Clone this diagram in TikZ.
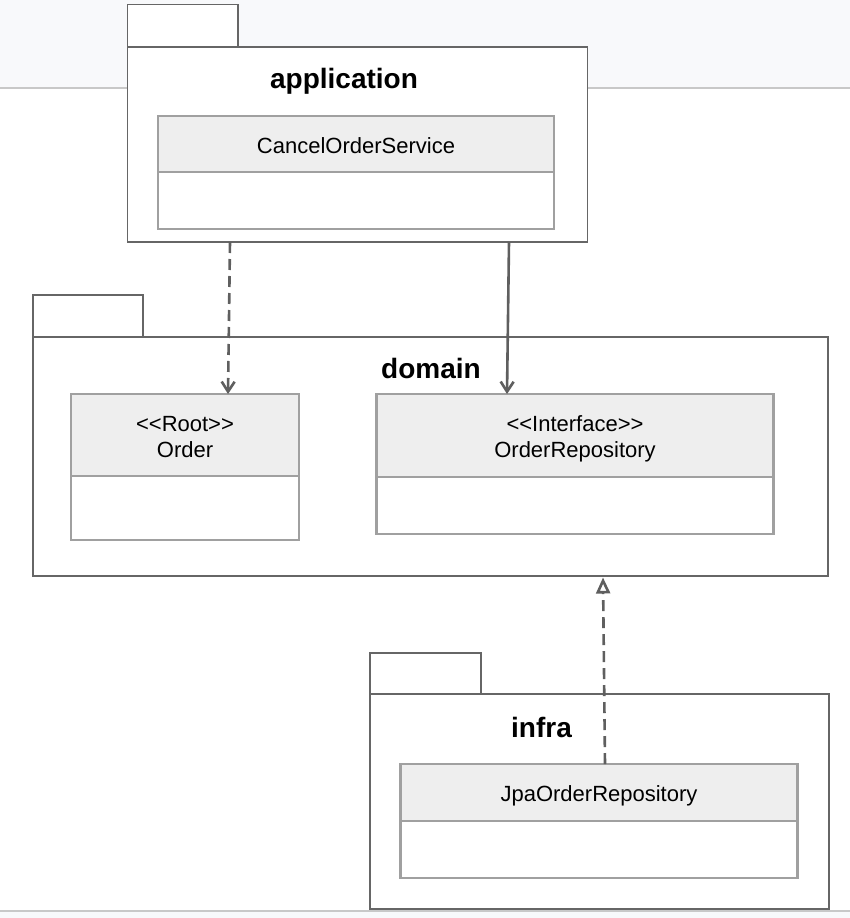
\documentclass[tikz,border=0pt]{standalone}
\usepackage{fontspec}
\newfontfamily\lsans{Liberation Sans}
\usetikzlibrary{arrows.meta,calc}
\definecolor{pkgline}{HTML}{666666}
\definecolor{clsline}{HTML}{A0A0A0}
\definecolor{clsfill}{HTML}{EEEEEE}
\definecolor{arrowc}{HTML}{5F5F5F}
\definecolor{band}{HTML}{F8F9FB}
\definecolor{bandline}{HTML}{C8C8C8}
\begin{document}
\begin{tikzpicture}[x=1pt,y=-1pt,
  pkgbox/.style={draw=pkgline, line width=1.3pt, fill=white, inner sep=0pt, outer sep=0pt, anchor=north west},
  clshead/.style={draw=clsline, line width=2.7pt, fill=clsfill, inner sep=0pt, outer sep=0pt, anchor=north west},
  clsbody/.style={draw=clsline, line width=2.7pt, fill=white, inner sep=0pt, outer sep=0pt, anchor=north west},
  clstext/.style={font=\lsans\fontsize{22}{26}\selectfont, align=center, inner sep=0pt, anchor=base},
  pkgtitle/.style={font=\lsans\fontsize{28}{30}\selectfont\bfseries, inner sep=0pt, anchor=base},
  conn/.style={draw=arrowc, line width=2.6pt},
  depline/.style={conn, dash pattern=on 11pt off 6pt},
  usetip/.style={-{Straight Barb[length=10pt, width=13pt, line width=2.6pt]}},
  realtip/.style={-{Triangle[open, length=16pt, width=14pt, line width=2.6pt]}},
]
\useasboundingbox (0,0) rectangle (850,918);
% page bands
\fill[band] (0,0) rectangle (850,88);
\draw[bandline, line width=1.2pt] (0,88) -- (850,88);
\fill[band] (0,911) rectangle (850,918);
\draw[bandline, line width=1.2pt] (0,911) -- (850,911);

% application package
\node[pkgbox, minimum width=110.5pt, minimum height=42.5pt] (apptab) at (127.5,4.5) {};
\node[pkgbox, minimum width=460pt, minimum height=195pt] (app) at (127.5,47) {};
\node[pkgtitle] (apptitle) at (344,88) {application};
\node[clshead, minimum width=396pt, minimum height=56pt] (cosh) at (158,116) {};
\node[clsbody, minimum width=396pt, minimum height=57pt] (cosb) at (158,172) {};
\node[clstext] (cost) at (356,153) {CancelOrderService};

% domain package
\node[pkgbox, minimum width=110pt, minimum height=42pt] (domtab) at (33,295) {};
\node[pkgbox, minimum width=795pt, minimum height=239pt] (dom) at (33,337) {};
\node[pkgtitle] (domtitle) at (431,378) {domain};
\node[clshead, minimum width=228pt, minimum height=82pt] (ordh) at (71,394) {};
\node[clsbody, minimum width=228pt, minimum height=64pt] (ordb) at (71,476) {};
\node[clstext] (ordt) at (185,457) {<<Root>>\\Order};
\node[clshead, minimum width=397pt, minimum height=83pt] (reph) at (376.5,394) {};
\node[clsbody, minimum width=397pt, minimum height=57pt] (repb) at (376.5,477) {};
\node[clstext] (rept) at (575,457) {<<Interface>>\\OrderRepository};

% infra package
\node[pkgbox, minimum width=111pt, minimum height=41pt] (inftab) at (370,653) {};
\node[pkgbox, minimum width=459pt, minimum height=215pt] (inf) at (370,694) {};
\node[pkgtitle] (inftitle) at (541.5,737) {infra};
\node[clshead, minimum width=397pt, minimum height=57pt] (jpah) at (400.5,764) {};
\node[clsbody, minimum width=397pt, minimum height=57pt] (jpab) at (400.5,821) {};
\node[clstext] (jpat) at (599,801.5) {JpaOrderRepository};

% connectors
\draw[depline, usetip] ($(app.south west)+(102.5,0)$) -- ($(ordh.north west)+(157,0)$);
\draw[conn, usetip] ($(app.south west)+(381.5,0)$) -- ($(reph.north west)+(130.5,0)$);
\draw[depline, realtip] ($(jpah.north west)+(204.5,0)$) -- ($(dom.south west)+(570,1.5)$);
\end{tikzpicture}
\end{document}
